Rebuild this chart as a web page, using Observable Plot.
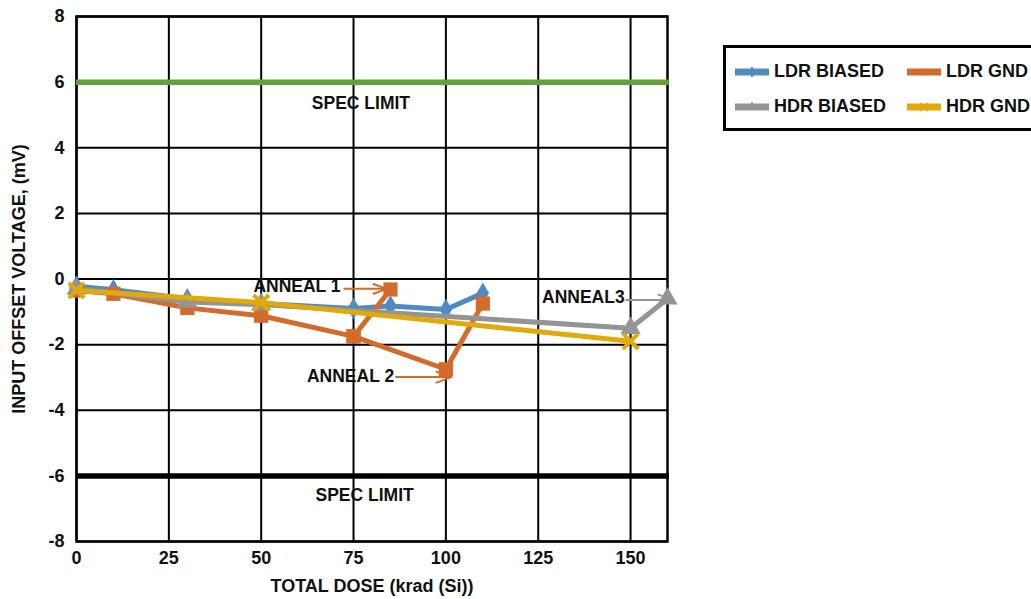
<!DOCTYPE html>
<html>
<head>
<meta charset="utf-8">
<script src="https://cdn.jsdelivr.net/npm/d3@7"></script>
<script src="https://cdn.jsdelivr.net/npm/@observablehq/plot@0.6"></script>
<style>
  html, body { margin: 0; padding: 0; background: #fff; overflow: hidden; }
  #wrap { position: relative; width: 1031px; height: 599px; overflow: hidden; font-family: "Liberation Sans", Arial, sans-serif; }
  #legend { position: absolute; left: 723px; top: 45px; width: 330px; height: 80px; border: 3px solid #000; background: #fff; }
  .item { position: absolute; display: flex; align-items: center; font-weight: bold; font-size: 18px; color: #111; white-space: nowrap; }
  .item svg { margin-right: 5px; }
</style>
</head>
<body>
<div id="wrap"><div id="legend"></div></div>
<script>
// ---- data ----
const seriesNames = ["LDR BIASED", "LDR GND", "HDR BIASED", "HDR GND"];
const seriesColors = ["#4f8bc0", "#d36b2a", "#949494", "#e2a90a"];
const seriesSymbols = ["diamond", "square", "triangle", "times"];

const ldrBiasedDose = [0, 10, 30, 50, 75, 85, 100, 110];
const ldrBiasedVos  = [-0.22, -0.33, -0.6, -0.75, -0.9, -0.82, -0.93, -0.43];

const ldrGndDose = [0, 10, 30, 50, 75, 100, 110];
const ldrGndVos  = [-0.35, -0.45, -0.88, -1.12, -1.75, -2.75, -0.75];
const ldrGndAnnealDose = [75, 85];
const ldrGndAnnealVos  = [-1.75, -0.32];

const hdrBiasedDose = [0, 30, 50, 150, 160];
const hdrBiasedVos  = [-0.3, -0.7, -0.78, -1.5, -0.6];

const hdrGndDose = [0, 50, 150];
const hdrGndVos  = [-0.35, -0.72, -1.9];

const specLimits = [6, -6];
const specColors = ["#64a03c", "#000000"];
const specLabelDose = [77, 78];
const specLabelVos = [5.36, -6.6];

const xTicks = [0, 25, 50, 75, 100, 125, 150];
const yTicks = [-8, -6, -4, -2, 0, 2, 4, 6, 8];

const annealLabels = ["ANNEAL 1", "ANNEAL 2", "ANNEAL3"];
const annealTextDose = [71.5, 86, 148.4];
const annealTextVos = [-0.21, -2.97, -0.55];
const annealArrowFrom = [72.5, 86.5, 148.8];
const annealArrowTo = [84, 101.5, 161.5];
const annealArrowVos = [-0.3, -2.99, -0.64];
const annealColors = ["#d36b2a", "#d36b2a", "#949494"];

// ---- build tables ----
const mk = (dose, vos, s, seg) => dose.map((d, i) => ({dose: d, vos: vos[i], s, seg}));
const lines = [
  mk(ldrBiasedDose, ldrBiasedVos, 0, "a"),
  mk(ldrGndDose, ldrGndVos, 1, "b"),
  mk(ldrGndAnnealDose, ldrGndAnnealVos, 1, "c"),
  mk(hdrBiasedDose, hdrBiasedVos, 2, "d"),
  mk(hdrGndDose, hdrGndVos, 3, "e")
];
const specs = specLimits.map((v, i) => ({v, c: specColors[i], lx: specLabelDose[i], ly: specLabelVos[i]}));
const anneals = annealLabels.map((t, i) => ({t, tx: annealTextDose[i], ty: annealTextVos[i], x1: annealArrowFrom[i], x2: annealArrowTo[i], y: annealArrowVos[i], c: annealColors[i]}));

const markSets = lines.map(rows => {
  const s = rows[0].s;
  const col = seriesColors[s];
  const sym = seriesSymbols[s];
  const m = [Plot.line(rows, {x: "dose", y: "vos", stroke: col, strokeWidth: 5, strokeLinejoin: "round"})];
  if (sym === "times") {
    m.push(Plot.dot(rows, {x: "dose", y: "vos", symbol: sym, r: 7, stroke: col, strokeWidth: 4}));
  } else {
    const r = sym === "square" ? 8 : sym === "triangle" ? 7.5 : 6.5;
    m.push(Plot.dot(rows, {x: "dose", y: "vos", symbol: sym, r, fill: col, stroke: "none"}));
  }
  return m;
});

const fmt = d => String(d);

const chart = Plot.plot({
  width: 1031,
  height: 599,
  marginLeft: 76,
  marginRight: 364,
  marginTop: 16,
  marginBottom: 58,
  style: {fontFamily: "'Liberation Sans', Arial, sans-serif", fontSize: "18px", fontWeight: "bold", color: "#111", background: "transparent"},
  x: {domain: [0, 160], ticks: xTicks, tickSize: 0, tickPadding: 10, label: "TOTAL DOSE (krad (Si))", labelArrow: "none", labelAnchor: "center", labelOffset: 50, tickFormat: fmt},
  y: {domain: [-8, 8], ticks: yTicks, tickSize: 0, tickPadding: 12, label: "INPUT OFFSET VOLTAGE, (mV)", labelArrow: "none", labelAnchor: "center", labelOffset: 64, tickFormat: fmt},
  marks: [
    Plot.gridX(xTicks, {stroke: "#000", strokeOpacity: 1, strokeWidth: 2}),
    Plot.gridY(yTicks, {stroke: "#000", strokeOpacity: 1, strokeWidth: 2}),
    Plot.frame({stroke: "#000", strokeWidth: 2.5}),
    Plot.ruleY(specs, {y: "v", stroke: "c", strokeWidth: 5.5, x1: 0, x2: 160.5}),
    Plot.text(specs, {x: "lx", y: "ly", text: () => "SPEC LIMIT", fontSize: 17.5, fontWeight: "bold", fill: "#111"}),
    ...markSets.flat(),
    Plot.arrow(anneals, {x1: "x1", x2: "x2", y1: "y", y2: "y", stroke: "c", strokeWidth: 2, headLength: 12, headAngle: 40}),
    Plot.text(anneals, {x: "tx", y: "ty", text: "t", textAnchor: "end", fontSize: 17.5, fontWeight: "bold", fill: "#111"})
  ]
});
document.getElementById("wrap").prepend(chart);
chart.style.position = "absolute";
chart.style.left = "0";
chart.style.top = "0";

// ---- legend ----
const legend = d3.select("#legend");
const pos = [[9, 13], [181, 13], [9, 48], [181, 48]];
seriesNames.forEach((name, i) => {
  const item = legend.append("div").attr("class", "item")
    .style("left", pos[i][0] + "px").style("top", pos[i][1] + "px");
  const svg = item.append("svg").attr("width", 34).attr("height", 20);
  svg.append("line").attr("x1", 0).attr("x2", 34).attr("y1", 10).attr("y2", 10)
    .attr("stroke", seriesColors[i]).attr("stroke-width", 7);
  const sym = {diamond: d3.symbolDiamond, square: d3.symbolSquare, triangle: d3.symbolTriangle, times: d3.symbolTimes}[seriesSymbols[i]];
  const p = svg.append("path").attr("transform", "translate(17,10)")
    .attr("d", d3.symbol(sym, 40)());
  if (seriesSymbols[i] === "times") p.attr("fill", "none").attr("stroke", seriesColors[i]).attr("stroke-width", 2);
  else p.attr("fill", seriesColors[i]);
  item.append("span").text(name);
});
</script>
</body>
</html>
